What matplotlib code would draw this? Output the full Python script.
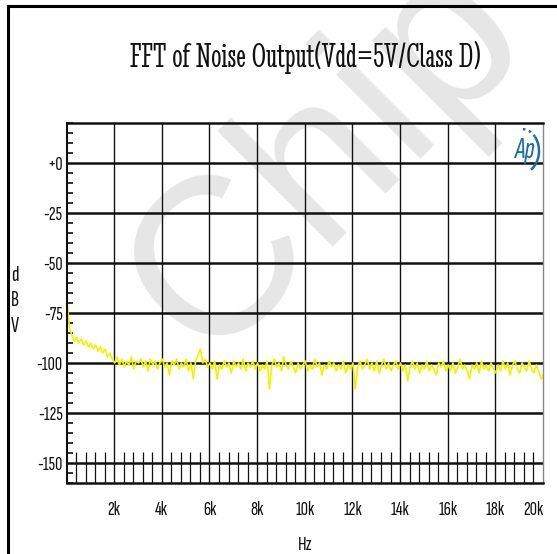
import numpy as np
import matplotlib
matplotlib.use("Agg")
import matplotlib.pyplot as plt
from matplotlib.lines import Line2D
from matplotlib.patches import Arc
from matplotlib.ticker import FixedLocator, FixedFormatter, MultipleLocator

# ---------------- data ----------------
title = "FFT of Noise Output(Vdd=5V/Class D)"
x_label = "Hz"
y_label = "d\nB\nV"
watermark = "Chip"
logo = "Ap"

freq_start_hz = 20
freq_step_hz = 100
noise_dbv = [
    -69, -82, -86, -89, -87, -90, -88, -91, -89, -92, -90, -93, -91, -94, -92, -95, -93, -97, -95, -98,
    -100, -97, -101, -98, -102, -99, -101, -97, -103, -99, -100, -98, -102, -99, -104, -98, -101, -99, -103, -100,
    -98, -102, -100, -106, -99, -101, -98, -103, -100, -102, -98, -104, -100, -108, -99, -96, -93, -100, -98, -102,
    -100, -103, -99, -108, -101, -103, -99, -102, -100, -105, -99, -102, -100, -103, -98, -104, -100, -102, -99, -103,
    -100, -104, -101, -103, -99, -113, -101, -98, -102, -100, -104, -97, -101, -103, -99, -102, -105, -100, -103, -101,
    -99, -104, -101, -103, -98, -102, -100, -106, -101, -103, -99, -102, -100, -104, -101, -103, -99, -105, -101, -103,
    -100, -113, -102, -99, -103, -101, -98, -103, -100, -104, -99, -105, -101, -98, -103, -100, -104, -101, -99, -103,
    -100, -104, -101, -109, -102, -99, -103, -100, -105, -101, -103, -99, -104, -101, -103, -106, -100, -102, -99, -104,
    -101, -104, -100, -105, -102, -98, -103, -101, -104, -108, -101, -103, -100, -105, -99, -103, -101, -104, -100, -103,
    -105, -101, -104, -99, -103, -100, -106, -101, -99, -103, -105, -100, -102, -104, -99, -103, -105, -101, -104, -108,
    -106,
]
freq_hz = freq_start_hz + freq_step_hz * np.arange(len(noise_dbv))

y_ticks = [0, -25, -50, -75, -100, -125, -150]
y_tick_labels = ["+0", "-25", "-50", "-75", "-100", "-125", "-150"]
x_ticks = [2000, 4000, 6000, 8000, 10000, 12000, 14000, 16000, 18000, 20000]
x_tick_labels = ["2k", "4k", "6k", "8k", "10k", "12k", "14k", "16k", "18k", "20k"]
x_range = (20, 20000)
y_range = (-160, 20)

# ---------------- style ----------------
LABEL_FONT = ["Sofia Sans Extra Condensed", "DejaVu Sans"]
TITLE_FONT = ["Stint Ultra Condensed", "DejaVu Serif"]
plt.rcParams['font.family'] = LABEL_FONT

W, H = 557, 554
fig = plt.figure(figsize=(W / 100, H / 100), dpi=100, facecolor='white')

# watermark behind everything
fig.text(205 / W, 1 - 363 / H, watermark, rotation=45, rotation_mode='anchor',
         ha='left', va='baseline', fontsize=161, color='#e6e6e6',
         family=["Liberation Sans", "DejaVu Sans"], zorder=-5)

# outer frame (left and top edges)
fig.add_artist(Line2D([7.5 / W, 7.5 / W], [0, 1 - 6 / H], transform=fig.transFigure, color='black', lw=2.2))
fig.add_artist(Line2D([7.5 / W, 1], [1 - 6 / H, 1 - 6 / H], transform=fig.transFigure, color='black', lw=2.2))

ax = fig.add_axes([67 / W, 1 - 483 / H, (543 - 67) / W, (483 - 123) / H])
ax.set_facecolor('none')
ax.set_xlim(*x_range)
ax.set_ylim(*y_range)

# grid lines
for yv in y_ticks:
    ax.axhline(yv, color='#111111', lw=1.8, zorder=1)
for xv in x_ticks[:-1]:
    ax.axvline(xv, color='#111111', lw=1.0, zorder=1)

ax.plot(freq_hz, noise_dbv, color='#f2f200', lw=1.2, zorder=2)

ax.yaxis.set_major_locator(FixedLocator(y_ticks))
ax.yaxis.set_major_formatter(FixedFormatter(y_tick_labels))
ax.xaxis.set_major_locator(FixedLocator(x_ticks))
ax.xaxis.set_major_formatter(FixedFormatter(x_tick_labels))
ax.yaxis.set_minor_locator(MultipleLocator(5))
ax.xaxis.set_minor_locator(MultipleLocator(400))

ax.tick_params(axis='both', which='major', length=0, labelsize=14.5, labelcolor='#111111')
ax.tick_params(axis='x', which='major', pad=13)
ax.tick_params(axis='y', which='major', pad=3)
ax.tick_params(axis='y', which='minor', direction='in', length=4.3, width=1.2, color='#111111')
ax.tick_params(axis='x', which='minor', direction='in', length=22, width=0.9, color='#111111')
ax.get_xticklabels()[-1].set_horizontalalignment('right')

for side, lw, col in [('top', 1.8, '#111111'), ('bottom', 1.8, '#111111'),
                      ('left', 1.5, '#111111'), ('right', 1.0, '#888888')]:
    ax.spines[side].set_linewidth(lw)
    ax.spines[side].set_color(col)

ax.set_title(title, family=TITLE_FONT, fontsize=26, pad=40, color='#111111')
ax.set_ylabel(y_label, rotation=0, ha='center', va='center', fontsize=16, linespacing=1.45, color='#111111')
ax.yaxis.set_label_coords((15 - 67) / 476, (483 - 301) / 360)
ax.set_xlabel(x_label, fontsize=15, va='center', color='#111111')
ax.xaxis.set_label_coords(0.5, (483 - 545) / 360)

# Audio Precision logo
logo_col = '#1c6fa3'
ax.text((525 - 67) / 476, (483 - 150) / 360, logo, transform=ax.transAxes, ha='center', va='center',
        fontsize=22, style='italic', weight='bold', color=logo_col)
ax.add_patch(Arc(((522 - 67) / 476, (483 - 151) / 360), 2 * 17 / 476, 2 * 22 / 360, theta1=-70, theta2=55,
                 transform=ax.transAxes, color=logo_col, lw=1.8))
ax.add_patch(Arc(((522 - 67) / 476, (483 - 151) / 360), 2 * 17 / 476, 2 * 22 / 360, theta1=55, theta2=95,
                 transform=ax.transAxes, color=logo_col, lw=1.8, ls=(0, (1, 1.5))))

fig.savefig("out.png", dpi=100, facecolor='white')
